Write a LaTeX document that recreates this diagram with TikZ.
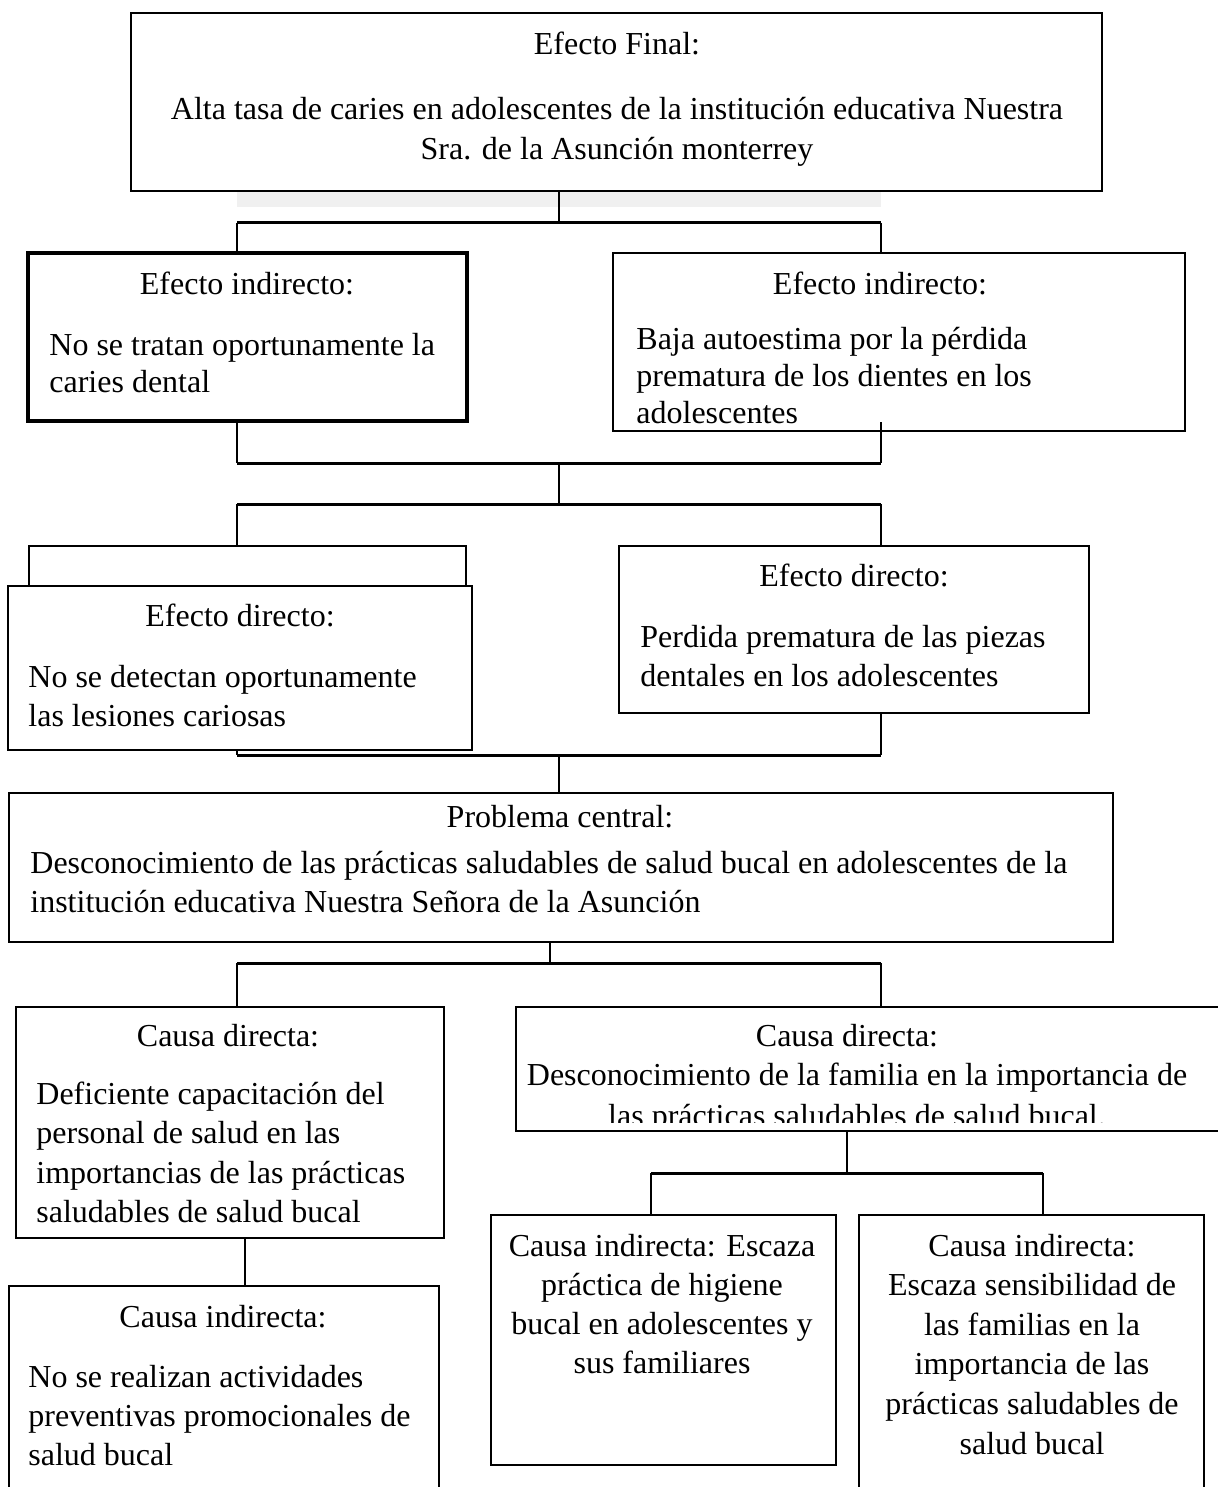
\documentclass[tikz,border=0pt]{standalone}
\usepackage{fontspec}
\setmainfont{Liberation Serif}
\usetikzlibrary{fit}

\newcommand{\boxfont}{\fontsize{16}{20}\selectfont}

\tikzset{
	box/.style={draw, line width=1pt, fill=white, inner sep=0pt},
	thickbox/.style={box, line width=1.6pt},
	txt/.style={inner sep=0pt, font=\boxfont},
	conn/.style={line width=1pt},
	bar/.style={line width=1.5pt},
}

\begin{document}
\begin{tikzpicture}[x=0.5pt, y=-0.5pt]
	\useasboundingbox (0,0) rectangle (1218,1487);
	
	% Efecto final
	\node[box, fit={(131,13) (1102,191)}] (ef) {};
	\fill[gray!12] (237,192) rectangle (881,207);
	\node[txt, anchor=base] (ef-t) at (617,55) {Efecto Final:};
	\foreach \l [count=\i from 0] in {Alta tasa de caries en adolescentes de la institución educativa Nuestra, Sra. de la Asunción monterrey}
		\node[txt, anchor=base] (ef-\i) at (617,120+40*\i) {\l};
	
	% Efectos indirectos
	\node[thickbox, fit={(28,253) (467,421)}] (ei1) {};
	\node[txt, anchor=base] (ei1-t) at (247,294) {Efecto indirecto:};
	\foreach \l [count=\i from 0] in {No se tratan oportunamente la, caries dental}
		\node[txt, anchor=base west] (ei1-\i) at (49,355+37*\i) {\l};
	
	\node[box, fit={(613,253) (1185,431)}] (ei2) {};
	\node[txt, anchor=base] (ei2-t) at (880,294) {Efecto indirecto:};
	\foreach \l [count=\i from 0] in {Baja autoestima por la pérdida, prematura de los dientes en los, adolescentes}
		\node[txt, anchor=base west] (ei2-\i) at (636,349+37*\i) {\l};
	
	% Efectos directos
	\node[box, fit={(29,546) (466,600)}] (ed1b) {};
	\node[box, fit={(8,586) (472,750)}] (ed1) {};
	\node[txt, anchor=base] (ed1-t) at (240,626) {Efecto directo:};
	\foreach \l [count=\i from 0] in {No se detectan oportunamente, las lesiones cariosas}
		\node[txt, anchor=base west] (ed1-\i) at (28,687+39*\i) {\l};
	
	\node[box, fit={(619,546) (1089,713)}] (ed2) {};
	\node[txt, anchor=base] (ed2-t) at (854,586) {Efecto directo:};
	\foreach \l [count=\i from 0] in {Perdida prematura de las piezas, dentales en  los adolescentes}
		\node[txt, anchor=base west] (ed2-\i) at (640,647+39*\i) {\l};
	
	% Problema central
	\node[box, fit={(9,793) (1113,942)}] (pc) {};
	\node[txt, anchor=base] (pc-t) at (560,827) {Problema central:};
	\foreach \l [count=\i from 0] in {Desconocimiento de las prácticas saludables de salud bucal en adolescentes de la, institución educativa Nuestra Señora de la Asunción}
		\node[txt, anchor=base west] (pc-\i) at (30,873+39*\i) {\l};
	
	% Causas directas
	\node[box, fit={(16,1007) (444,1238)}] (cd1) {};
	\node[txt, anchor=base] (cd1-t) at (228,1046) {Causa directa:};
	\foreach \l [count=\i from 0] in {Deficiente capacitación del, personal de salud en las, importancias de las prácticas, saludables de salud bucal}
		\node[txt, anchor=base west] (cd1-\i) at (36,1104+39.6*\i) {\l};
	
	\node[box, fit={(516,1007) (1228,1131)}] (cd2) {};
	\node[txt, anchor=base] (cd2-t) at (847,1046) {Causa directa:};
	\node[txt, anchor=base] (cd2-0) at (857,1085) {Desconocimiento de la familia en la importancia de};
	\begin{scope}
		\clip (516,1007) rectangle (1228,1122);
		\node[txt, anchor=base] (cd2-1) at (857,1126) {las prácticas saludables de salud bucal.};
	\end{scope}
	
	% Causas indirectas
	\node[box, fit={(9,1286) (439,1500)}] (ci1) {};
	\node[txt, anchor=base] (ci1-t) at (223,1327) {Causa indirecta:};
	\foreach \l [count=\i from 0] in {No se realizan actividades, preventivas promocionales de, salud bucal}
		\node[txt, anchor=base west] (ci1-\i) at (28,1387+39*\i) {\l};
	
	\node[box, fit={(491,1215) (836,1465)}] (ci2) {};
	\foreach \l [count=\i from 0] in {Causa indirecta: Escaza, práctica de higiene, bucal en adolescentes y, sus familiares}
		\node[txt, anchor=base] (ci2-\i) at (662,1256+39.3*\i) {\l};
	
	\node[box, fit={(859,1215) (1204,1500)}] (ci3) {};
	\foreach \l [count=\i from 0] in {Causa indirecta:, Escaza sensibilidad de, las familias en la, importancia de las, prácticas saludables de, salud bucal}
		\node[txt, anchor=base] (ci3-\i) at (1032,1256+39.6*\i) {\l};
	
	% Conectores
	\coordinate (j1) at (559,223);
	\coordinate (b1l) at (237,223);
	\coordinate (b1r) at (881,223);
	\draw[conn] (ef.south -| j1) -- (j1);
	\draw[bar] (b1l) -- (b1r);
	\draw[conn] (b1l) -- (ei1.north -| b1l);
	\draw[conn] (b1r) -- (ei2.north -| b1r);
	
	\coordinate (b2l) at (237,463);
	\coordinate (b2r) at (881,463);
	\draw[conn] (ei1.south -| b2l) -- (b2l);
	\draw[conn] ([yshift=5pt]ei2.south -| b2r) -- (b2r);
	\draw[bar] (b2l) -- (b2r);
	
	\coordinate (j3) at (559,504);
	\coordinate (b3l) at (237,504);
	\coordinate (b3r) at (881,504);
	\draw[conn] (j3 |- b2l) -- (j3);
	\draw[bar] (b3l) -- (b3r);
	\draw[conn] (b3l) -- (ed1b.north -| b3l);
	\draw[conn] (b3r) -- (ed2.north -| b3r);
	
	\coordinate (j4) at (559,755);
	\coordinate (b4l) at (237,755);
	\coordinate (b4r) at (881,755);
	\draw[conn] (ed1.south -| b4l) -- (b4l);
	\draw[conn] (ed2.south -| b4r) -- (b4r);
	\draw[bar] (b4l) -- (b4r);
	\draw[conn] (j4) -- (pc.north -| j4);
	
	\coordinate (j5) at (550,963);
	\coordinate (b5l) at (237,963);
	\coordinate (b5r) at (881,963);
	\draw[conn] (pc.south -| j5) -- (j5);
	\draw[bar] (b5l) -- (b5r);
	\draw[conn] (b5l) -- (cd1.north -| b5l);
	\draw[conn] (b5r) -- (cd2.north -| b5r);
	
	\coordinate (j6) at (245,1238);
	\draw[conn] (cd1.south -| j6) -- (ci1.north -| j6);
	
	\coordinate (j7) at (847,1173);
	\coordinate (b7l) at (651,1173);
	\coordinate (b7r) at (1043,1173);
	\draw[conn] (cd2.south -| j7) -- (j7);
	\draw[bar] (b7l) -- (b7r);
	\draw[conn] (b7l) -- (ci2.north -| b7l);
	\draw[conn] (b7r) -- (ci3.north -| b7r);
	
\end{tikzpicture}
\end{document}
